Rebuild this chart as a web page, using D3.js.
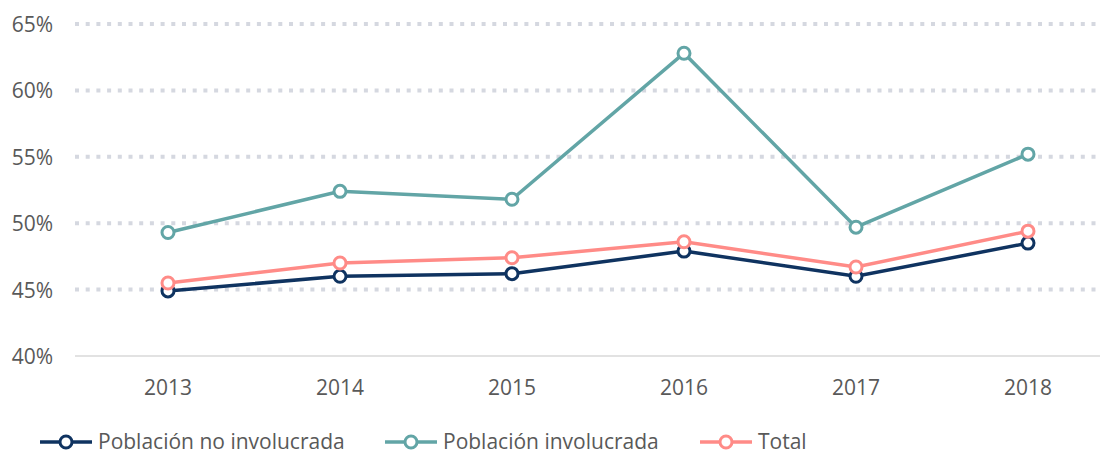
<!DOCTYPE html>
<html lang="es">
<head>
    <meta charset="UTF-8">
    <script src="https://d3js.org/d3.v7.min.js"></script>
    <style>
        body { margin: 0; background: white; font-family: "Open Sans", sans-serif; }
        svg text { fill: #595959; }
    </style>
</head>
<body>
    <svg id="chart" width="1102" height="454"></svg>
    <script>
        // datos
        const years = ["2013", "2014", "2015", "2016", "2017", "2018"];
        const noInvolucrada = [44.9, 46.0, 46.2, 47.9, 46.0, 48.5];
        const involucrada = [49.3, 52.4, 51.8, 62.8, 49.7, 55.2];
        const total = [45.5, 47.0, 47.4, 48.6, 46.7, 49.4];
        const yTicks = [40, 45, 50, 55, 60, 65];

        const series = [
            { name: "Población no involucrada", values: noInvolucrada, color: "#0f3360" },
            { name: "Población involucrada", values: involucrada, color: "#62a5a6" },
            { name: "Total", values: total, color: "#ff8b87" }
        ];

        const svg = d3.select("#chart");
        const margin = { left: 75, right: 2 };
        const width = 1102;

        const x = d3.scaleBand()
            .domain(years)
            .range([82, 1114]);

        const y = d3.scaleLinear()
            .domain([40, 65])
            .range([356, 24]);

        // rejilla
        svg.append("g")
            .selectAll("line")
            .data(yTicks.filter(d => d > 40))
            .enter().append("line")
            .attr("x1", margin.left)
            .attr("x2", width - margin.right)
            .attr("y1", d => y(d))
            .attr("y2", d => y(d))
            .attr("stroke", "#d5d8e0")
            .attr("stroke-width", 4)
            .attr("stroke-dasharray", "4,6.7");

        svg.append("line")
            .attr("x1", margin.left)
            .attr("x2", width - margin.right)
            .attr("y1", y(40))
            .attr("y2", y(40))
            .attr("stroke", "#d9d9d9")
            .attr("stroke-width", 1.5);

        // eje y
        svg.append("g")
            .selectAll("text")
            .data(yTicks)
            .enter().append("text")
            .attr("x", 53)
            .attr("y", d => y(d) + 8)
            .attr("text-anchor", "end")
            .style("font-size", "21px")
            .text(d => d + "%");

        // eje x
        svg.append("g")
            .selectAll("text")
            .data(years)
            .enter().append("text")
            .attr("x", d => x(d) + x.bandwidth() / 2)
            .attr("y", 395)
            .attr("text-anchor", "middle")
            .style("font-size", "21px")
            .text(d => d);

        const line = d3.line()
            .x((d, i) => x(years[i]) + x.bandwidth() / 2)
            .y(d => y(d));

        series.forEach(s => {
            svg.append("path")
                .datum(s.values)
                .attr("fill", "none")
                .attr("stroke", s.color)
                .attr("stroke-width", 3.5)
                .attr("d", line);
        });

        series.forEach(s => {
            svg.append("g")
                .selectAll("circle")
                .data(s.values)
                .enter().append("circle")
                .attr("cx", (d, i) => x(years[i]) + x.bandwidth() / 2)
                .attr("cy", d => y(d))
                .attr("r", 6)
                .attr("fill", "white")
                .attr("stroke", s.color)
                .attr("stroke-width", 3);
        });

        // leyenda
        const legendX = [40, 385, 700];
        const legend = svg.append("g");
        series.forEach((s, i) => {
            const g = legend.append("g")
                .attr("transform", `translate(${legendX[i]},442)`);
            g.append("line")
                .attr("x1", 0).attr("x2", 52)
                .attr("stroke", s.color)
                .attr("stroke-width", 3.5);
            g.append("circle")
                .attr("cx", 26).attr("r", 6)
                .attr("fill", "white")
                .attr("stroke", s.color)
                .attr("stroke-width", 3);
            g.append("text")
                .attr("x", 58)
                .attr("y", 7)
                .style("font-size", "21px")
                .text(s.name);
        });
    </script>
</body>
</html>
